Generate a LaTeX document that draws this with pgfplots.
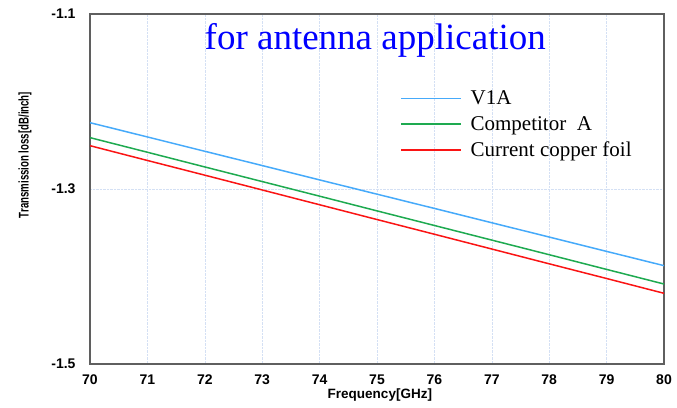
\documentclass[border=0pt]{standalone}
\usepackage{pgfplots}
\pgfplotsset{compat=1.18}
\usepackage{fontspec}
\setmainfont{Liberation Serif}
\newfontfamily\arialfont{Liberation Sans}

\definecolor{framec}{RGB}{95,95,95}
\definecolor{gridc}{RGB}{212,224,244}
\definecolor{vblue}{RGB}{70,170,250}
\definecolor{cgreen}{RGB}{30,170,80}
\definecolor{cred}{RGB}{250,20,20}

\pgfplotstableread{
x    v1a     compA   copper
70  -1.2242 -1.2413 -1.2505
71  -1.2405 -1.2580 -1.2674
72  -1.2569 -1.2748 -1.2842
73  -1.2732 -1.2915 -1.3011
74  -1.2896 -1.3082 -1.3180
75  -1.3059 -1.3250 -1.3349
76  -1.3222 -1.3417 -1.3517
77  -1.3386 -1.3584 -1.3686
78  -1.3549 -1.3751 -1.3855
79  -1.3713 -1.3919 -1.4023
80  -1.3876 -1.4086 -1.4192
}\loss

\begin{document}
\begin{tikzpicture}
\begin{axis}[
  scale only axis,
  width=574pt, height=350pt,
  xmin=70, xmax=80, ymin=-1.5, ymax=-1.1,
  xtick={70,...,80},
  ytick={-1.5,-1.3,-1.1},
  major tick length=0pt,
  axis line style={framec, line width=1.6pt},
  xmajorgrids, ymajorgrids,
  grid style={gridc, densely dotted, line width=0.6pt},
  /pgf/number format/assume math mode=true,
  ticklabel style={font=\arialfont\bfseries\fontsize{14}{14}\selectfont},
  yticklabel style={/pgf/number format/fixed, /pgf/number format/precision=1,
    /pgf/number format/fixed zerofill, xshift=-11pt},
  xticklabel style={yshift=-7pt},
  clip=false,
  legend style={draw=none, fill=none, at={(0.535,0.792)}, anchor=north west,
    font=\fontsize{21}{21}\selectfont, row sep=6pt,
    /tikz/every odd column/.append style={column sep=7pt}},
  legend cell align=left,
  legend image post style={xscale=3.5, line width=1.6pt},
]
\addplot[vblue, line width=1.5pt] table[x=x, y=v1a] {\loss};
\addlegendentry{V1A}
\addplot[cgreen, line width=1.5pt] table[x=x, y=compA] {\loss};
\addlegendentry{Competitor\ \ A}
\addplot[cred, line width=1.5pt] table[x=x, y=copper] {\loss};
\addlegendentry{Current copper foil}

\node[anchor=base, text=blue, font=\fontsize{37}{37}\selectfont]
  at (axis cs:74.97,-1.1411) {for antenna application};
\node[font=\arialfont\bfseries\fontsize{13.5}{14}\selectfont]
  at (axis cs:75.05,-1.5354) {Frequency[GHz]};
\node[rotate=90, font=\arialfont\bfseries\fontsize{14}{14}\selectfont]
  at (axis cs:68.868,-1.2611) {\scalebox{0.69}[1]{Transmission loss[dB/inch]}};
\end{axis}
\path ([shift={(-90pt,-43pt)}]current axis.south west)
  rectangle ([shift={(13pt,14pt)}]current axis.north east);
\end{tikzpicture}
\end{document}
